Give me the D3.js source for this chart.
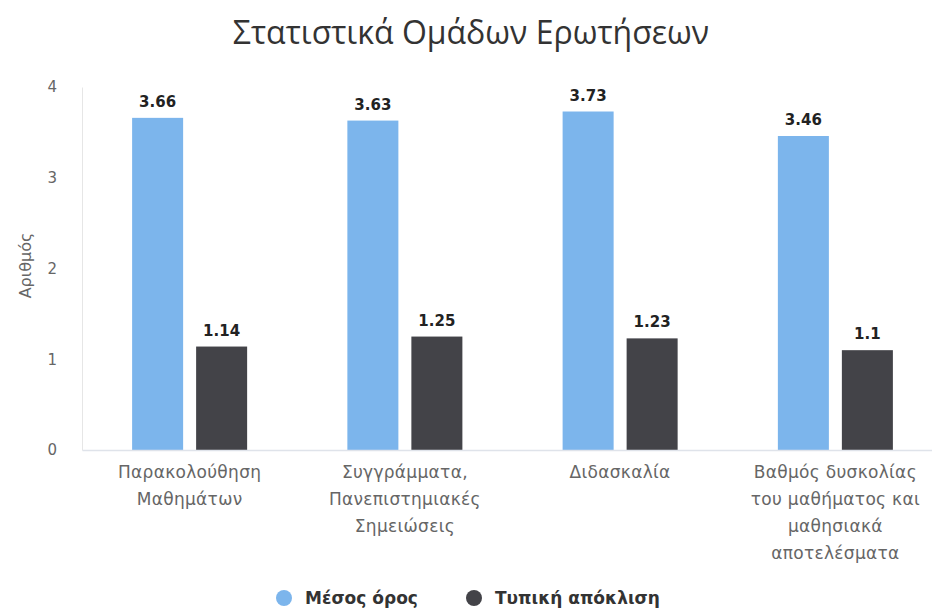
<!DOCTYPE html>
<html>
<head>
<meta charset="utf-8">
<script src="https://cdn.jsdelivr.net/npm/d3@7"></script>
<style>
  html, body { margin: 0; padding: 0; background: #fff; }
  svg { display: block; }
</style>
</head>
<body>
<svg id="chart" width="932" height="610"></svg>
<script>
const categories = [
  ["Παρακολούθηση", "Μαθημάτων"],
  ["Συγγράμματα,", "Πανεπιστημιακές", "Σημειώσεις"],
  ["Διδασκαλία"],
  ["Βαθμός δυσκολίας", "του μαθήματος και", "μαθησιακά", "αποτελέσματα"]
];
const seriesNames = ["Μέσος όρος", "Τυπική απόκλιση"];
const meanValues = [3.66, 3.63, 3.73, 3.46];
const stdValues = [1.14, 1.25, 1.23, 1.1];
const yTicks = [0, 1, 2, 3, 4];
const colors = ["#7cb5ec", "#434348"];
const titleText = "Στατιστικά Ομάδων Ερωτήσεων";
const yTitle = "Αριθμός";

const svg = d3.select("#chart");
const plot = { left: 82, right: 943, top: 87, bottom: 450 };

const catIdx = categories.map((d, i) => i);
const x0 = d3.scaleBand().domain(catIdx).range([plot.left, plot.right]).padding(0);
const x1 = d3.scaleBand().domain([0, 1]).range([0, x0.bandwidth()])
  .paddingInner(0.203).paddingOuter(0.783);
const y = d3.scaleLinear().domain([0, 4]).range([plot.bottom, plot.top]);

const series = [meanValues, stdValues];

// title
svg.append("text")
  .attr("x", 471).attr("y", 44)
  .attr("text-anchor", "middle")
  .attr("font-family", "'Open Sans', sans-serif")
  .attr("font-size", 32)
  .attr("fill", "#333")
  .text(titleText);

// y axis
const yAxis = d3.axisLeft(y).tickValues(yTicks).tickSize(0).tickPadding(25).tickFormat(d3.format("d"));
const gy = svg.append("g").attr("transform", `translate(${plot.left},0)`).call(yAxis);
gy.select(".domain").attr("stroke", "#e6e6e6");
gy.selectAll("text")
  .attr("font-family", "'DejaVu Sans', sans-serif")
  .attr("font-size", 15)
  .attr("fill", "#666");

svg.append("text")
  .attr("transform", `translate(26,${(plot.top + plot.bottom) / 2 - 3}) rotate(-90)`)
  .attr("text-anchor", "middle")
  .attr("dominant-baseline", "middle")
  .attr("font-family", "'DejaVu Sans', sans-serif")
  .attr("font-size", 16)
  .attr("fill", "#666")
  .text(yTitle);

// bars
series.forEach((vals, s) => {
  const g = svg.append("g");
  g.selectAll("rect").data(vals).join("rect")
    .attr("x", (d, i) => x0(i) + x1(s))
    .attr("y", d => y(d))
    .attr("width", x1.bandwidth())
    .attr("height", d => y(0) - y(d))
    .attr("fill", colors[s]);
  g.selectAll("text").data(vals).join("text")
    .attr("x", (d, i) => x0(i) + x1(s) + x1.bandwidth() / 2)
    .attr("y", d => y(d) - 11)
    .attr("text-anchor", "middle")
    .attr("font-family", "'DejaVu Sans', sans-serif")
    .attr("font-weight", "bold")
    .attr("font-size", 15)
    .attr("fill", "#222")
    .text(d => d);
});

// x axis
const xAxis = d3.axisBottom(x0).tickSize(0).tickFormat("");
const gx = svg.append("g").attr("transform", `translate(0,${plot.bottom})`).call(xAxis);
gx.select(".domain").attr("stroke", "#dfe3ea").attr("stroke-width", 1.5);

const labels = svg.append("g");
categories.forEach((lines, i) => {
  const t = labels.append("text")
    .attr("text-anchor", "middle")
    .attr("font-family", "'DejaVu Sans', sans-serif")
    .attr("font-size", 17)
    .attr("letter-spacing", 0.3)
    .attr("fill", "#666");
  lines.forEach((ln, j) => {
    t.append("tspan")
      .attr("x", x0(i) + x0.bandwidth() / 2)
      .attr("y", plot.bottom + 28 + j * 27)
      .text(ln);
  });
});

// legend
const legendItems = [
  { name: seriesNames[0], color: colors[0], cx: 284 },
  { name: seriesNames[1], color: colors[1], cx: 474 }
];
const lg = svg.append("g");
legendItems.forEach(it => {
  lg.append("circle").attr("cx", it.cx).attr("cy", 598).attr("r", 8).attr("fill", it.color);
  lg.append("text")
    .attr("x", it.cx + 21).attr("y", 604)
    .attr("font-family", "'DejaVu Sans', sans-serif")
    .attr("font-weight", "bold")
    .attr("font-size", 17)
    .attr("fill", "#333")
    .text(it.name);
});
</script>
</body>
</html>
